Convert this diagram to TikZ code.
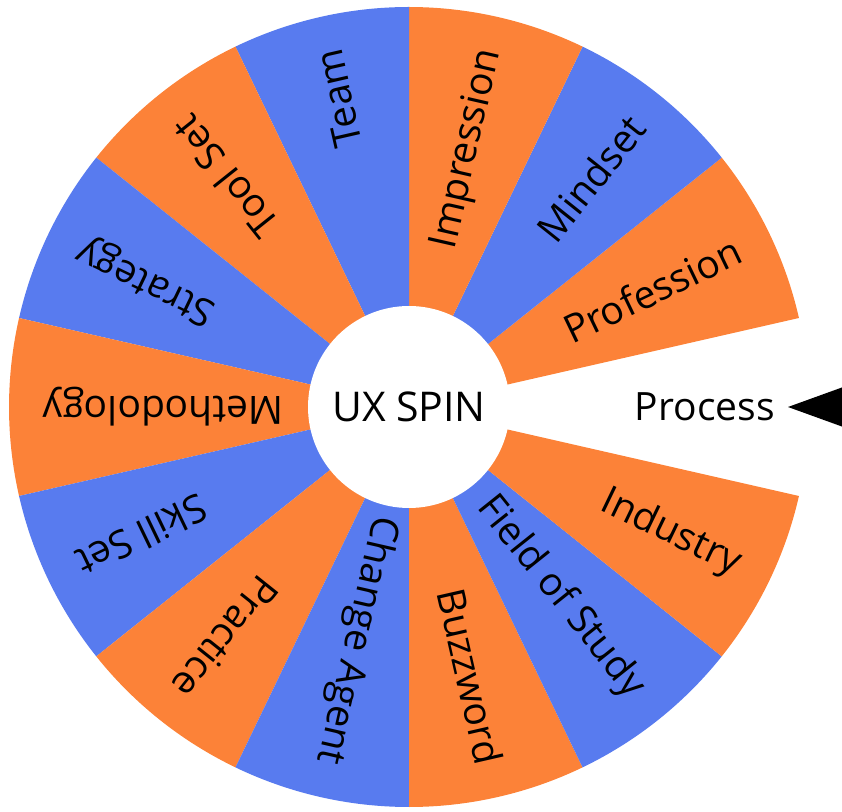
\documentclass[tikz,border=0pt]{standalone}
\usepackage{fontspec}
\setmainfont{Open Sans}
\definecolor{wheelorange}{HTML}{FC8238}
\definecolor{wheelblue}{HTML}{587BEF}
\begin{document}
\begin{tikzpicture}[x=1pt,y=1pt,
  spoke/.style={anchor=east, inner sep=0pt, font=\fontsize{39}{44}\selectfont},
  hubtext/.style={circle, fill=white, minimum size=202pt, inner sep=0pt, font=\fontsize{41}{44}\selectfont}]
\useasboundingbox (0,0) rectangle (842,811);
\coordinate (c) at (409,404);
% fourteen slices of 360/14 degrees; slice 0 (Process) is left blank
\foreach \i/\name in {1/Profession,2/Mindset,3/Impression,4/Team,5/Tool Set,
  6/Strategy,7/Methodology,8/Skill Set,9/Practice,10/Change Agent,
  11/Buzzword,12/Field of Study,13/Industry} {
  \pgfmathsetmacro\mid{\i*360/14}
  \pgfmathsetmacro\lo{\mid-180/14}
  \pgfmathsetmacro\hi{\mid+180/14}
  \pgfmathparse{isodd(\i)}
  \ifnum\pgfmathresult=1 \def\col{wheelorange}\else\def\col{wheelblue}\fi
  \fill[\col] (c) -- ([shift={(\lo:400)}]c) arc[start angle=\lo, end angle=\hi, radius=400] -- cycle;
  \node[spoke, rotate=\mid] (slice\i) at ([shift={(\mid:366)}]c) {\name};
}
\node[spoke] (slice0) at ([shift={(0:366)}]c) {Process};
\node[hubtext] (hub) at (c) {UX SPIN};
% pointer
\coordinate (ptip) at (788,404);
\fill[black] (ptip) -- (846,425) -- (846,383) -- cycle;
\end{tikzpicture}
\end{document}
